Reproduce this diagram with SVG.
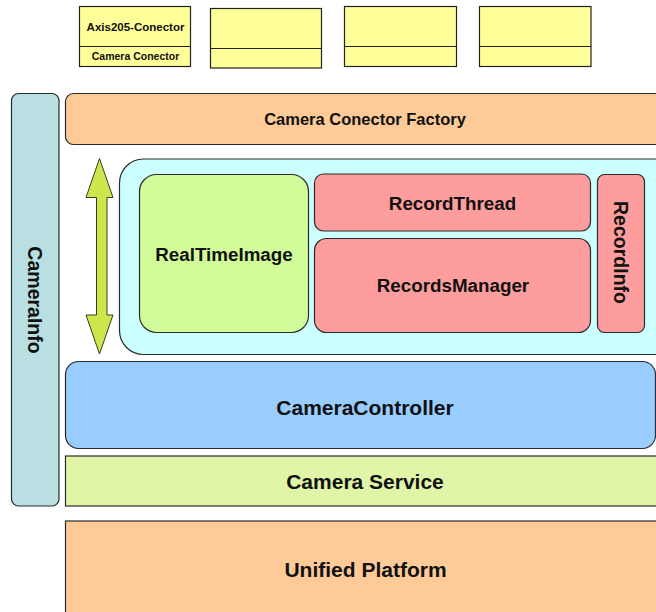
<svg xmlns="http://www.w3.org/2000/svg" width="656" height="612" viewBox="0 0 656 612">
  <style>
    text { font-family: "Liberation Sans", Arial, sans-serif; font-weight: bold; fill: #111; text-anchor: middle; }
    .box { stroke: #2a2a2a; stroke-width: 1.2; }
    .conn { fill: #ffff99; stroke: #222; stroke-width: 1.2; }
    .div { stroke: #222; stroke-width: 1.2; }
    .t-small { font-size: 11.5px; }
    .t-tiny { font-size: 10.5px; }
    .t-mid { font-size: 16.5px; }
    .t-node { font-size: 18.8px; }
    .t-side { font-size: 19.5px; }
    .t-big { font-size: 21px; }
  </style>

  <rect width="656" height="612" fill="#ffffff"/>

  <!-- camera connectors -->
  <g id="axis205-conector">
    <rect class="conn" x="79.5" y="6.5" width="111" height="60"/>
    <line class="div" x1="79.5" y1="46.5" x2="190.5" y2="46.5"/>
    <text class="t-small" x="135.5" y="30.5">Axis205-Conector</text>
    <text class="t-tiny" x="135.5" y="60">Camera Conector</text>
  </g>
  <g id="conector-2">
    <rect class="conn" x="210.5" y="8.5" width="111" height="59.5"/>
    <line class="div" x1="210.5" y1="48.5" x2="321.5" y2="48.5"/>
  </g>
  <g id="conector-3">
    <rect class="conn" x="344.5" y="6.5" width="112" height="60"/>
    <line class="div" x1="344.5" y1="46.5" x2="456.5" y2="46.5"/>
  </g>
  <g id="conector-4">
    <rect class="conn" x="479.5" y="6.5" width="111.5" height="60"/>
    <line class="div" x1="479.5" y1="46.5" x2="591" y2="46.5"/>
  </g>

  <!-- side bar -->
  <g id="camera-info">
    <rect class="box" x="11.5" y="93.5" width="47.5" height="412.5" rx="7" fill="#b9dfe2"/>
    <text class="t-side" x="35" y="300" dy="0.35em" transform="rotate(90 35 300)">CameraInfo</text>
  </g>

  <g id="camera-conector-factory">
    <rect class="box" x="65.5" y="93.5" width="600" height="51" rx="8" fill="#fecb98"/>
    <text class="t-mid" x="365" y="124.5">Camera Conector Factory</text>
  </g>

  <!-- recording / live image container -->
  <g id="image-container">
    <rect class="box" x="119.5" y="159" width="560" height="195.5" rx="24" fill="#ccffff"/>
  </g>

  <g id="real-time-image">
    <rect class="box" x="139.5" y="174.5" width="169" height="158" rx="17" fill="#d2fc9a"/>
    <text class="t-node" x="224" y="260.5">RealTimeImage</text>
  </g>

  <g id="record-thread">
    <rect class="box" x="314.5" y="174" width="276" height="57" rx="9" fill="#fe9d9d"/>
    <text class="t-node" x="452.5" y="209.5">RecordThread</text>
  </g>

  <g id="records-manager">
    <rect class="box" x="314.5" y="238.5" width="276" height="94" rx="12" fill="#fe9d9d"/>
    <text class="t-node" x="453" y="291.5">RecordsManager</text>
  </g>

  <g id="record-info">
    <rect class="box" x="597.5" y="174.5" width="47" height="158" rx="7" fill="#fe9d9d"/>
    <text class="t-side" x="621" y="252.5" dy="0.35em" transform="rotate(90 621 252.5)">RecordInfo</text>
  </g>

  <g id="camera-controller">
    <rect class="box" x="65.5" y="361.5" width="590" height="87" rx="13" fill="#99ccff"/>
    <text class="t-big" x="365" y="415">CameraController</text>
  </g>

  <g id="camera-service">
    <rect class="box" x="65.5" y="456" width="600" height="50" fill="#e0f5a8"/>
    <text class="t-big" x="365" y="488.5">Camera Service</text>
  </g>

  <g id="unified-platform">
    <rect class="box" x="65.5" y="521" width="600" height="100" fill="#fecb98"/>
    <text class="t-big" x="365.5" y="577">Unified Platform</text>
  </g>

  <!-- connectors -->
  <g id="connectors">
    <polygon points="99.5,158.5 113,197.5 107,197.5 107,315 113,315 99.5,354 86,315 96.5,315 96.5,197.5 86,197.5"
             fill="#cde64c" stroke="#3a3a2a" stroke-width="1" stroke-linejoin="miter"/>
  </g>
</svg>
